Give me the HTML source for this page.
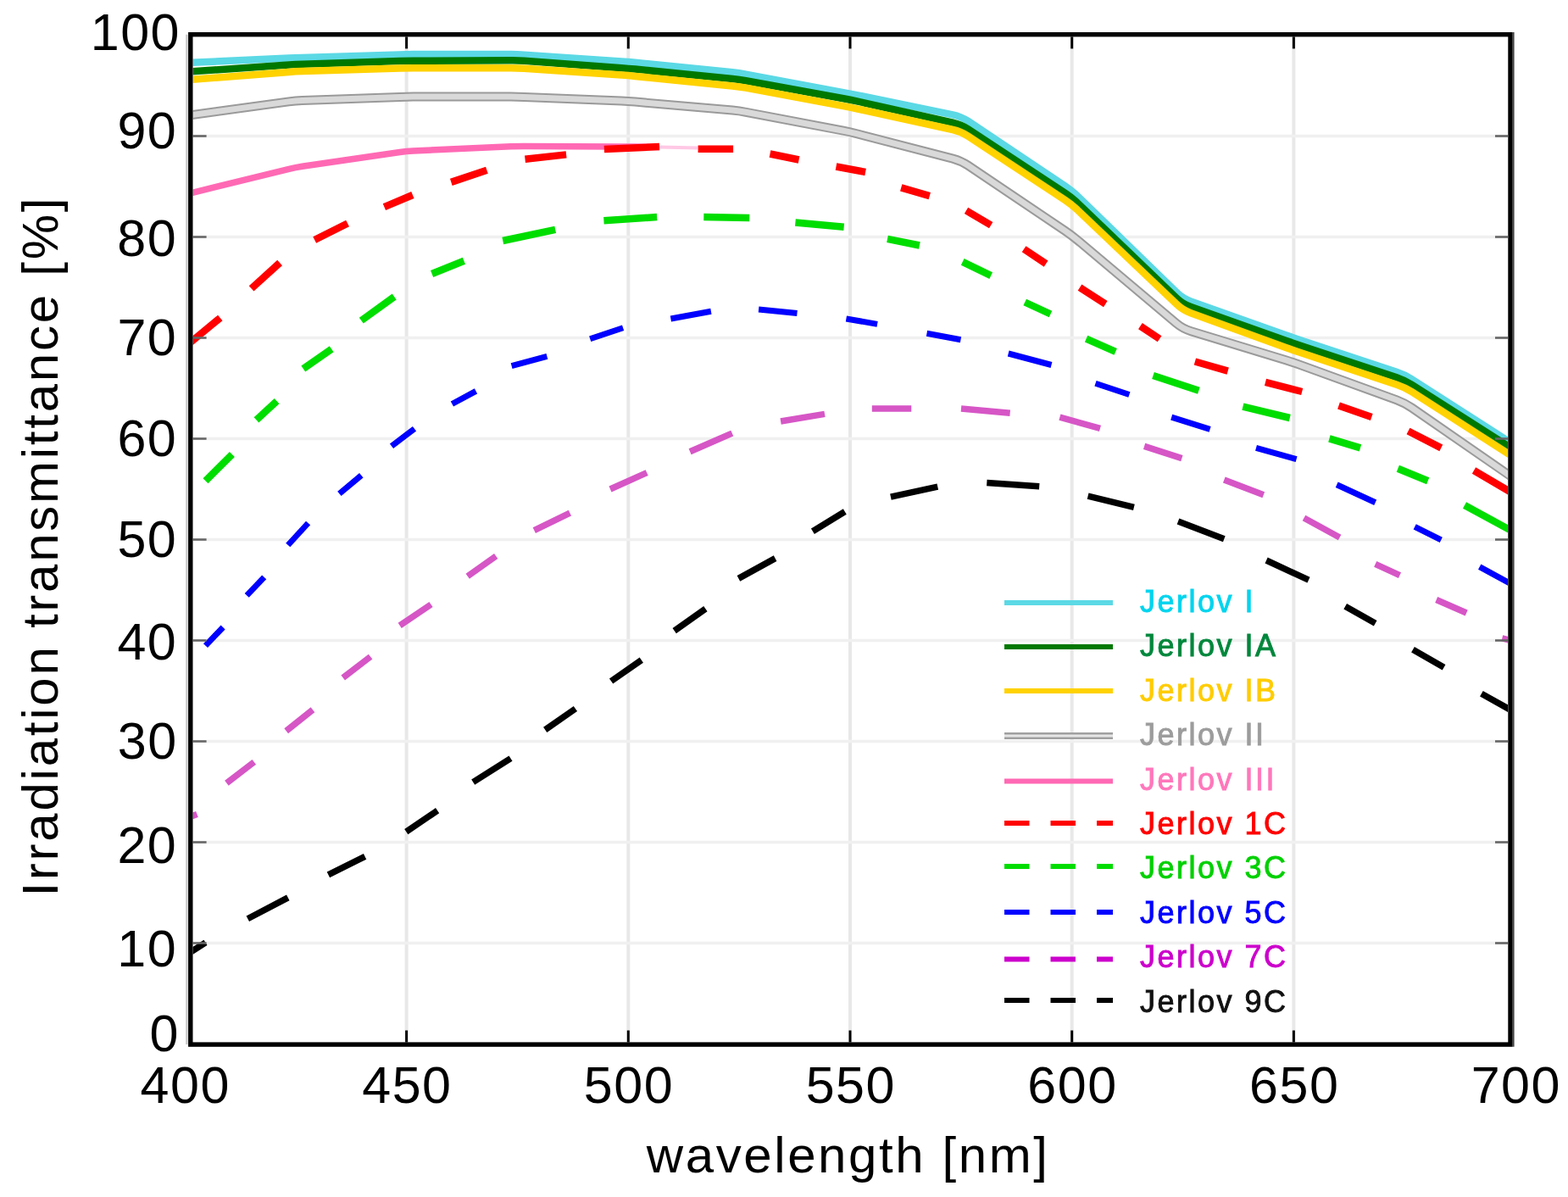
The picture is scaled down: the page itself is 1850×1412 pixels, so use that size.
<!DOCTYPE html>
<html><head><meta charset="utf-8"><title>Jerlov irradiance transmittance</title>
<style>
html,body{margin:0;padding:0;background:#fff;}
body{width:1850px;height:1412px;overflow:hidden;}
svg{display:block;}
text{font-family:"Liberation Sans",Arial,Helvetica,sans-serif;}
</style></head><body>
<svg width="1850" height="1412" viewBox="0 0 1850 1412">
<defs><clipPath id="pa"><rect x="227.6" y="43.4" width="1551.4" height="1186.1"/></clipPath></defs>
<rect width="1850" height="1412" fill="#fff"/>

<g stroke="#e8e8e8" stroke-width="4"><line x1="479.6" y1="43.4" x2="479.6" y2="1229.5"/><line x1="741.3" y1="43.4" x2="741.3" y2="1229.5"/><line x1="1003.0" y1="43.4" x2="1003.0" y2="1229.5"/><line x1="1264.7" y1="43.4" x2="1264.7" y2="1229.5"/><line x1="1526.4" y1="43.4" x2="1526.4" y2="1229.5"/></g>
<g stroke="#f0f0f0" stroke-width="3.5"><line x1="227.6" y1="1112.5" x2="1779.0" y2="1112.5"/><line x1="227.6" y1="993.5" x2="1779.0" y2="993.5"/><line x1="227.6" y1="874.5" x2="1779.0" y2="874.5"/><line x1="227.6" y1="755.5" x2="1779.0" y2="755.5"/><line x1="227.6" y1="636.5" x2="1779.0" y2="636.5"/><line x1="227.6" y1="517.5" x2="1779.0" y2="517.5"/><line x1="227.6" y1="398.5" x2="1779.0" y2="398.5"/><line x1="227.6" y1="279.5" x2="1779.0" y2="279.5"/><line x1="227.6" y1="160.5" x2="1779.0" y2="160.5"/></g>
<g clip-path="url(#pa)" fill="none" stroke-linejoin="round">
<path d="M217.9 74.2L340.8 68.6Q348.8 68.3 356.7 68.0L471.6 64.4Q479.6 64.1 487.6 64.1L602.5 64.1Q610.5 64.1 618.4 64.7L733.3 72.5Q741.3 73.0 749.3 73.8L864.2 85.3Q872.2 86.1 880.0 87.6L995.1 109.1Q1003.0 110.5 1010.8 112.1L1124.1 135.3Q1133.8 137.3 1142.2 142.9L1256.4 219.2Q1264.7 224.8 1271.9 231.7L1388.4 345.1Q1395.6 352.1 1405.0 355.4L1517.0 395.2Q1526.4 398.5 1535.9 401.7L1647.8 438.8Q1657.2 441.9 1665.7 447.3L1788.1 525.8" stroke="#5bd9e5" stroke-width="8.5"/>
<path d="M217.9 84.9L340.8 76.6Q348.8 76.0 356.7 75.8L471.6 72.1Q479.6 71.8 487.6 71.8L602.5 71.3Q610.5 71.2 618.4 71.8L733.3 80.2Q741.3 80.8 749.3 81.6L864.2 93.1Q872.2 93.9 880.0 95.3L995.1 116.2Q1003.0 117.7 1010.8 119.4L1124.1 144.6Q1133.8 146.8 1142.2 152.3L1256.4 227.6Q1264.7 233.1 1271.9 240.0L1388.3 351.7Q1395.6 358.6 1405.0 362.0L1517.0 401.7Q1526.4 405.0 1535.9 408.2L1647.8 445.3Q1657.2 448.5 1665.7 453.9L1788.1 531.8" stroke="#007800" stroke-width="8.5"/>
<path d="M217.9 94.5L340.8 85.0Q348.8 84.3 356.7 84.1L471.6 80.4Q479.6 80.2 487.6 80.2L602.5 80.2Q610.5 80.2 618.4 80.7L733.3 88.6Q741.3 89.1 749.3 89.9L864.2 101.4Q872.2 102.2 880.0 103.7L995.1 125.1Q1003.0 126.6 1010.8 128.3L1124.1 153.0Q1133.8 155.1 1142.2 160.6L1256.4 235.9Q1264.7 241.4 1271.9 248.3L1388.3 358.9Q1395.6 365.8 1404.9 369.2L1517.0 410.0Q1526.4 413.4 1535.9 416.5L1647.8 453.7Q1657.2 456.8 1665.7 462.2L1788.1 540.7" stroke="#ffd200" stroke-width="8.5"/>
<path d="M217.9 136.7L340.8 119.9Q348.8 118.8 356.7 118.6L471.6 114.4Q479.6 114.1 487.6 114.1L602.5 114.1Q610.5 114.1 618.4 114.4L733.3 119.1Q741.3 119.4 749.3 120.1L864.2 130.1Q872.2 130.8 880.0 132.3L995.1 154.2Q1003.0 155.7 1010.7 157.7L1124.2 187.1Q1133.8 189.7 1142.1 195.2L1256.4 272.1Q1264.7 277.7 1272.4 284.2L1387.9 381.4Q1395.6 387.8 1405.1 390.7L1516.8 424.7Q1526.4 427.7 1535.8 431.1L1647.9 471.8Q1657.2 475.3 1665.5 480.9L1788.1 565.7" stroke="#9a9a9a" stroke-width="11"/>
<path d="M217.9 136.7L340.8 119.9Q348.8 118.8 356.7 118.6L471.6 114.4Q479.6 114.1 487.6 114.1L602.5 114.1Q610.5 114.1 618.4 114.4L733.3 119.1Q741.3 119.4 749.3 120.1L864.2 130.1Q872.2 130.8 880.0 132.3L995.1 154.2Q1003.0 155.7 1010.7 157.7L1124.2 187.1Q1133.8 189.7 1142.1 195.2L1256.4 272.1Q1264.7 277.7 1272.4 284.2L1387.9 381.4Q1395.6 387.8 1405.1 390.7L1516.8 424.7Q1526.4 427.7 1535.8 431.1L1647.9 471.8Q1657.2 475.3 1665.5 480.9L1788.1 565.7" stroke="#d9d9d9" stroke-width="7"/>
<path d="M217.9 229.5L341.0 199.3Q348.8 197.4 356.7 196.2L471.7 179.5Q479.6 178.3 487.6 178.0L602.5 172.8Q610.5 172.4 618.4 172.4L733.3 173.0Q741.3 173.0 749.3 173.1L778.0 173.4" stroke="#ff69b4" stroke-width="7.5"/>
<line x1="778" y1="173.4" x2="823" y2="174.4" stroke="#ffc8e4" stroke-width="4"/>
<path d="M222.0 406.2L259.8 374.9M296.6 340.3L330.1 310.0M371.2 283.0L410.1 263.5M453.4 244.1L486.9 230.0M532.3 214.9L574.4 200.8M619.5 187.8L668.1 182.4M712.9 176.1L778.0 173.1M823.6 175.8L865.1 175.8M908.5 181.5L942.6 188.5M986.5 196.5L1021.1 203.0M1063.2 221.4L1096.8 231.1M1140.0 248.4L1169.2 265.7M1208.1 293.8L1234.1 311.1M1274.0 339.2L1304.3 358.6M1345.4 384.6L1368.1 399.7M1409.9 426.5L1448.7 437.6M1493.0 450.9L1536.2 462.0M1579.5 478.6L1618.3 491.9M1661.5 508.5L1700.3 528.4M1739.0 555.0L1785.0 582.0" stroke="#ff0000" stroke-width="8.5"/>
<path d="M242.5 567.3L273.9 535.9M302.5 495.4L326.6 473.2M357.8 435.0L391.2 411.7M426.3 378.1L465.2 350.0M509.6 323.0L547.4 307.8M593.3 284.0L655.2 270.8M712.4 260.3L775.1 256.0M830.3 256.0L884.3 257.0M938.4 262.4L995.7 267.8M1047.0 281.9L1084.9 289.5M1135.7 308.9L1169.2 325.1M1209.2 356.5L1239.5 370.5M1281.6 399.7L1316.2 414.9M1360.5 443.0L1414.4 460.8M1466.4 479.7L1521.8 493.0M1568.4 517.4L1605.0 528.4M1649.3 552.8L1684.7 567.2M1728.0 596.0L1785.0 627.0" stroke="#00dd00" stroke-width="8.5"/>
<path d="M242.5 761.6L263.1 740.0M291.2 702.4L311.7 680.8M339.8 643.0L363.6 617.0M400.4 582.4L426.3 560.8M462.0 526.2L489.0 505.7M533.4 476.5L561.5 461.4M603.6 431.6L645.4 420.3M696.2 399.7L735.1 386.8M791.4 376.0L838.9 367.3M895.1 365.1L940.5 369.5M998.4 376.0L1035.1 382.4M1093.5 393.2L1133.5 400.8M1189.7 417.0L1240.5 430.5M1292.5 452.2L1332.4 465.5M1382.2 492.2L1427.6 506.3M1482.0 528.4L1529.6 541.7M1577.2 571.7L1622.7 592.7M1669.2 621.3L1700.3 636.8M1745.7 668.7L1785.0 690.0" stroke="#0000ff" stroke-width="7"/>
<path d="M222.0 964.5L232.5 960.5M267.4 923.8L299.8 898.9M337.7 862.2L369.0 837.3M404.7 799.5L437.1 774.6M471.7 737.8L508.5 713.0M551.7 679.7L585.2 656.0M630.3 625.7L672.4 605.1M720.0 577.0L763.2 557.6M814.1 532.7L863.8 511.1M921.1 497.0L973.0 488.4M1028.8 482.1L1075.3 482.1M1134.0 482.1L1191.7 487.2M1250.4 492.1L1298.0 505.4M1350.1 526.4L1394.4 540.6M1444.3 566.1L1490.8 583.8M1538.5 611.0L1580.6 634.0M1622.7 665.4L1651.5 678.7M1694.7 707.5L1730.2 723.0M1772.3 752.9L1785.0 756.0" stroke="#d656c6" stroke-width="7.5"/>
<path d="M222.0 1125.0L242.5 1111.9M292.3 1083.8L339.8 1058.9M387.4 1031.9L430.6 1010.3M479.3 981.1L516.1 956.2M558.2 922.7L602.5 894.6M643.2 860.8L678.9 836.0M721.1 803.5L756.8 778.6M795.7 744.1L832.4 718.1M871.4 682.4L914.6 658.6M958.9 626.8L996.8 603.5M1050.9 586.2L1106.3 574.1M1164.3 569.4L1226.2 573.8M1283.6 585.1L1337.9 598.4M1390.0 615.0L1444.3 635.7M1494.1 661.0L1544.0 684.2M1587.2 715.2L1622.7 735.2M1667.0 766.2L1703.6 787.3M1747.9 818.3L1785.0 839.0" stroke="#000000" stroke-width="7.5"/>
</g>
<g stroke="#000" stroke-width="3"><line x1="479.6" y1="1229.5" x2="479.6" y2="1215.5"/><line x1="479.6" y1="43.4" x2="479.6" y2="57.4"/><line x1="741.3" y1="1229.5" x2="741.3" y2="1215.5"/><line x1="741.3" y1="43.4" x2="741.3" y2="57.4"/><line x1="1003.0" y1="1229.5" x2="1003.0" y2="1215.5"/><line x1="1003.0" y1="43.4" x2="1003.0" y2="57.4"/><line x1="1264.7" y1="1229.5" x2="1264.7" y2="1215.5"/><line x1="1264.7" y1="43.4" x2="1264.7" y2="57.4"/><line x1="1526.4" y1="1229.5" x2="1526.4" y2="1215.5"/><line x1="1526.4" y1="43.4" x2="1526.4" y2="57.4"/></g>
<g stroke="#666" stroke-width="2.6"><line x1="227.6" y1="1112.5" x2="243.6" y2="1112.5"/><line x1="1779.0" y1="1112.5" x2="1764.0" y2="1112.5"/><line x1="227.6" y1="993.5" x2="243.6" y2="993.5"/><line x1="1779.0" y1="993.5" x2="1764.0" y2="993.5"/><line x1="227.6" y1="874.5" x2="243.6" y2="874.5"/><line x1="1779.0" y1="874.5" x2="1764.0" y2="874.5"/><line x1="227.6" y1="755.5" x2="243.6" y2="755.5"/><line x1="1779.0" y1="755.5" x2="1764.0" y2="755.5"/><line x1="227.6" y1="636.5" x2="243.6" y2="636.5"/><line x1="1779.0" y1="636.5" x2="1764.0" y2="636.5"/><line x1="227.6" y1="517.5" x2="243.6" y2="517.5"/><line x1="1779.0" y1="517.5" x2="1764.0" y2="517.5"/><line x1="227.6" y1="398.5" x2="243.6" y2="398.5"/><line x1="1779.0" y1="398.5" x2="1764.0" y2="398.5"/><line x1="227.6" y1="279.5" x2="243.6" y2="279.5"/><line x1="1779.0" y1="279.5" x2="1764.0" y2="279.5"/><line x1="227.6" y1="160.5" x2="243.6" y2="160.5"/><line x1="1779.0" y1="160.5" x2="1764.0" y2="160.5"/></g>
<line x1="220.4" y1="40.7" x2="220.4" y2="1232.1" stroke="#c8c8c8" stroke-width="2.4"/>
<rect x="224.8" y="40.7" width="1557.2" height="1191.3999999999999" fill="none" stroke="#000" stroke-width="5.4"/>
<line x1="1785.6" y1="38.0" x2="1785.6" y2="1234.8" stroke="#444" stroke-width="2"/>
<g font-size="61" fill="#000" letter-spacing="1.5"><text x="213.0" y="59.4" text-anchor="end">100</text><text x="209.3" y="175.0" text-anchor="end">90</text><text x="209.2" y="301.8" text-anchor="end">80</text><text x="209.3" y="418.9" text-anchor="end">70</text><text x="209.3" y="538.0" text-anchor="end">60</text><text x="209.3" y="657.0" text-anchor="end">50</text><text x="209.3" y="777.5" text-anchor="end">40</text><text x="209.7" y="894.9" text-anchor="end">30</text><text x="209.3" y="1017.5" text-anchor="end">20</text><text x="209.1" y="1139.7" text-anchor="end">10</text><text x="212.0" y="1239.8" text-anchor="end">0</text><text x="218.7" y="1301.2" text-anchor="middle">400</text><text x="480.4" y="1301.2" text-anchor="middle">450</text><text x="742.0" y="1301.2" text-anchor="middle">500</text><text x="1003.8" y="1301.2" text-anchor="middle">550</text><text x="1265.5" y="1301.2" text-anchor="middle">600</text><text x="1527.2" y="1301.2" text-anchor="middle">650</text><text x="1788.8" y="1301.2" text-anchor="middle">700</text></g>
<text x="1000.7" y="1382.9" font-size="60" letter-spacing="2.6" text-anchor="middle" fill="#000">wavelength [nm]</text>
<text transform="translate(68.0,644.2) rotate(-90)" font-size="60" letter-spacing="2.75" text-anchor="middle" fill="#000">Irradiation transmittance [%]</text>
<g><line x1="1185" y1="711" x2="1313" y2="711" stroke="#5bd9e5" stroke-width="6"/><text x="1345.0" y="722.0" font-size="36" letter-spacing="2.5" fill="#00d4ee" stroke="#00d4ee" stroke-width="0.9">Jerlov I</text><line x1="1185" y1="763" x2="1313" y2="763" stroke="#007800" stroke-width="6"/><text x="1345.0" y="774.4" font-size="36" letter-spacing="2.5" fill="#00873c" stroke="#00873c" stroke-width="0.9">Jerlov IA</text><line x1="1185" y1="815" x2="1313" y2="815" stroke="#ffd200" stroke-width="6"/><text x="1345.0" y="826.8" font-size="36" letter-spacing="2.5" fill="#ffcc00" stroke="#ffcc00" stroke-width="0.9">Jerlov IB</text><line x1="1185" y1="868" x2="1313" y2="868" stroke="#a0a0a0" stroke-width="8"/><line x1="1185" y1="868" x2="1313" y2="868" stroke="#e6e6e6" stroke-width="3"/><text x="1345.0" y="879.2" font-size="36" letter-spacing="2.5" fill="#9c9c9c" stroke="#9c9c9c" stroke-width="0.9">Jerlov II</text><line x1="1185" y1="921.4" x2="1313" y2="921.4" stroke="#ff69b4" stroke-width="6"/><text x="1345.0" y="931.6" font-size="36" letter-spacing="2.5" fill="#ff77bb" stroke="#ff77bb" stroke-width="0.9">Jerlov III</text><line x1="1185" y1="971" x2="1313" y2="971" stroke="#ff0000" stroke-width="6" stroke-dasharray="29.5 25"/><text x="1345.0" y="984.0" font-size="36" letter-spacing="2.5" fill="#ff0000" stroke="#ff0000" stroke-width="0.9">Jerlov 1C</text><line x1="1185" y1="1022" x2="1313" y2="1022" stroke="#00dd00" stroke-width="6" stroke-dasharray="29.5 25"/><text x="1345.0" y="1036.4" font-size="36" letter-spacing="2.5" fill="#00d000" stroke="#00d000" stroke-width="0.9">Jerlov 3C</text><line x1="1185" y1="1076" x2="1313" y2="1076" stroke="#0000ff" stroke-width="6" stroke-dasharray="29.5 25"/><text x="1345.0" y="1088.8" font-size="36" letter-spacing="2.5" fill="#0000ff" stroke="#0000ff" stroke-width="0.9">Jerlov 5C</text><line x1="1185" y1="1131.6" x2="1313" y2="1131.6" stroke="#cc00cc" stroke-width="6" stroke-dasharray="29.5 25"/><text x="1345.0" y="1141.2" font-size="36" letter-spacing="2.5" fill="#cc00cc" stroke="#cc00cc" stroke-width="0.9">Jerlov 7C</text><line x1="1185" y1="1180" x2="1313" y2="1180" stroke="#000000" stroke-width="6" stroke-dasharray="29.5 25"/><text x="1345.0" y="1193.6" font-size="36" letter-spacing="2.5" fill="#111111" stroke="#111111" stroke-width="0.9">Jerlov 9C</text></g>
</svg></body></html>
